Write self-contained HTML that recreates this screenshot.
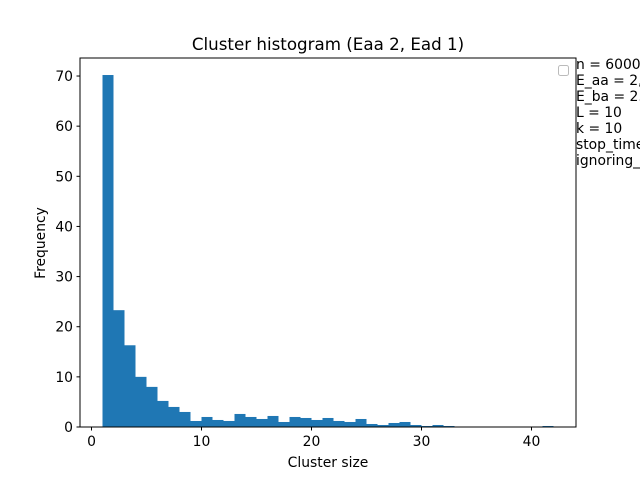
<!DOCTYPE html>
<html><head><meta charset="utf-8"><style>body{margin:0;background:#fff}svg{display:block;font-family:"DejaVu Sans","Liberation Sans",sans-serif}</style></head>
<body>
<svg id="chart" width="640" height="480">
<rect x="0" y="0" width="640" height="480" fill="#fff"/>
<text x="328" y="50" font-size="16.7" text-anchor="middle">Cluster histogram (Eaa 2, Ead 1)</text>
<g id="bars"></g>
<rect x="80" y="58" width="496" height="369" fill="none" stroke="#000" stroke-width="1"/>
<g id="xticks"></g><g id="yticks"></g>
<text x="328" y="467" font-size="13.9" text-anchor="middle">Cluster size</text>
<text x="45" y="243" font-size="13.9" text-anchor="middle" transform="rotate(-90 45 243)">Frequency</text>
<g font-size="13.9">
<rect x="558.5" y="65.5" width="10" height="10" rx="2" fill="none" stroke="#bbb"/>
<text x="576" y="69">n = 6000</text>
<text x="576" y="85">E_aa = 2,</text>
<text x="576" y="101">E_ba = 2.</text>
<text x="576" y="117">L = 10</text>
<text x="576" y="133">k = 10</text>
<text x="576" y="149">stop_time</text>
<text x="576" y="165">ignoring_</text>
</g>
</svg>
<script>
const binStarts=[1,2,3,4,5,6,7,8,9,10,11,12,13,14,15,16,17,18,19,20,21,22,23,24,25,26,27,28,29,30,31,32,33,34,35,36,37,38,39,40,41];
const counts=[70.2,23.3,16.3,10.0,8.0,5.2,4.0,3.0,1.2,2.0,1.4,1.2,2.6,2.0,1.6,2.2,1.0,2.0,1.8,1.4,1.8,1.2,1.0,1.6,0.6,0.4,0.8,1.0,0.4,0.2,0.4,0.2,0,0,0,0,0,0,0,0,0.2];
const binWidth=1;
const xTicks=[0,10,20,30,40];
const yTicks=[0,10,20,30,40,50,60,70];
const NS="http://www.w3.org/2000/svg";
const xs=v=>91.5+v*11.0;
const ys=v=>427-v*5.014;
const bars=document.getElementById('bars');
binStarts.forEach((b,i)=>{
 const r=document.createElementNS(NS,'rect');
 r.setAttribute('x',xs(b));r.setAttribute('width',xs(b+binWidth)-xs(b));
 r.setAttribute('y',ys(counts[i]));r.setAttribute('height',ys(0)-ys(counts[i]));
 r.setAttribute('fill','#1f77b4');
 
 
 bars.appendChild(r);
});
const xt=document.getElementById('xticks');
xTicks.forEach(t=>{
 const l=document.createElementNS(NS,'line');
 l.setAttribute('x1',xs(t));l.setAttribute('x2',xs(t));l.setAttribute('y1',427);l.setAttribute('y2',430.5);l.setAttribute('stroke','#000');
 
 
 xt.appendChild(l);
 const s=document.createElementNS(NS,'text');
 s.setAttribute('x',xs(t));s.setAttribute('y',446);s.setAttribute('font-size','13.9');s.setAttribute('text-anchor','middle');s.textContent=t;
 
 
 xt.appendChild(s);
});
const yt=document.getElementById('yticks');
yTicks.forEach(t=>{
 const l=document.createElementNS(NS,'line');
 l.setAttribute('x1',76.5);l.setAttribute('x2',80);l.setAttribute('y1',ys(t));l.setAttribute('y2',ys(t));l.setAttribute('stroke','#000');
 
 
 yt.appendChild(l);
 const s=document.createElementNS(NS,'text');
 s.setAttribute('x',73);s.setAttribute('y',ys(t)+5);s.setAttribute('font-size','13.9');s.setAttribute('text-anchor','end');s.textContent=t;
 
 
 yt.appendChild(s);
});
</script>
</body></html>
